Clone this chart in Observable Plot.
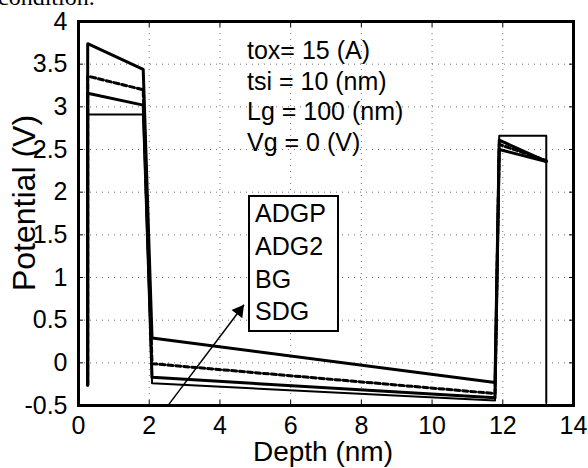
<!DOCTYPE html>
<html><head><meta charset="utf-8">
<script src="https://cdn.jsdelivr.net/npm/d3@7"></script>
<script src="https://cdn.jsdelivr.net/npm/@observablehq/plot@0.6"></script>
<style>
html,body{margin:0;padding:0;background:#fff;}
body{width:588px;height:468px;overflow:hidden;position:relative;font-family:"Liberation Sans",Arial,sans-serif;color:#000;}
#cap{position:absolute;left:-2px;top:-15px;font-family:"Liberation Serif",serif;font-size:24px;line-height:24px;white-space:nowrap;}
#chart{position:absolute;left:0;top:0;}
.ov{position:absolute;white-space:nowrap;}
#ann{left:247px;top:35px;font-size:25px;line-height:30.5px;}
#leg{left:248px;top:195px;width:91px;height:137px;border:2px solid #000;box-sizing:border-box;padding-left:5px;font-size:25px;line-height:32.8px;background:#fff;}
#ylab{left:24px;top:203px;font-size:32px;transform:translate(-50%,-50%) rotate(-90deg);}
#xlab{left:323px;top:452px;font-size:28px;line-height:26px;transform:translate(-50%,-50%);}
</style></head><body>
<div id="cap">condition.</div>
<div id="chart"></div>
<div id="ann" class="ov"></div>
<div id="leg" class="ov"></div>
<div id="ylab" class="ov">Potential (V)</div>
<div id="xlab" class="ov">Depth (nm)</div>
<script>
// ---- data ----
const seriesNames = ["ADGP", "ADG2", "BG", "SDG"];
const depth1 = [0.26, 0.26, 1.83, 2.08, 11.78, 11.9, 13.23];
const pot1   = [-0.26, 3.74, 3.44, 0.29, -0.23, 2.61, 2.36];
const depth2 = [0.26, 0.26, 1.83, 2.08, 11.78, 11.9, 13.23];
const pot2   = [-0.26, 3.36, 3.20, -0.01, -0.36, 2.56, 2.37];
const depth3 = [0.26, 0.26, 1.83, 2.08, 11.78, 11.9, 13.23];
const pot3   = [-0.26, 3.16, 3.02, -0.17, -0.41, 2.50, 2.36];
const depth4 = [0.26, 0.26, 1.83, 2.08, 11.78, 11.9, 13.23, 13.23];
const pot4   = [-0.26, 2.91, 2.91, -0.24, -0.44, 2.66, 2.66, -0.47];
const xTicks = [0, 2, 4, 6, 8, 10, 12, 14];
const yTicks = [-0.5, 0, 0.5, 1, 1.5, 2, 2.5, 3, 3.5, 4];
const annotationLines = ["tox= 15 (A)", "tsi = 10 (nm)", "Lg = 100 (nm)", "Vg = 0 (V)"];
const arrowFrom = {depth: 2.55, pot: -0.49};
const arrowTo = {depth: 4.68, pot: 0.68};

const toRows = (name, xs, ys) => xs.map((x, i) => ({series: name, depth: x, pot: ys[i]}));
const s1 = toRows(seriesNames[0], depth1, pot1);
const s2 = toRows(seriesNames[1], depth2, pot2);
const s3 = toRows(seriesNames[2], depth3, pot3);
const s4 = toRows(seriesNames[3], depth4, pot4);

document.getElementById("ann").innerHTML = annotationLines.map(t => `<div>${t}</div>`).join("");
document.getElementById("leg").innerHTML = seriesNames.map(t => `<div>${t}</div>`).join("");

const blank = () => "";
const plot = Plot.plot({
  width: 588,
  height: 468,
  marginLeft: 78,
  marginRight: 15,
  marginTop: 21,
  marginBottom: 63,
  style: {fontFamily: "Liberation Sans, Arial, sans-serif", background: "transparent", color: "#000"},
  x: {domain: [0, 14]},
  y: {domain: [-0.5, 4]},
  marks: [
    Plot.gridX(xTicks.slice(1, -1), {stroke: "#000", strokeOpacity: 0.55, strokeDasharray: "1,5"}),
    Plot.gridY(yTicks.slice(1, -1), {stroke: "#000", strokeOpacity: 0.55, strokeDasharray: "1,5"}),
    Plot.line(s4, {x: "depth", y: "pot", stroke: "#000", strokeWidth: 2}),
    Plot.line(s3, {x: "depth", y: "pot", stroke: "#000", strokeWidth: 3}),
    Plot.line(s2, {x: "depth", y: "pot", stroke: "#000", strokeWidth: 3, strokeDasharray: "5,3"}),
    Plot.line(s1, {x: "depth", y: "pot", stroke: "#000", strokeWidth: 3}),
    Plot.link([{}], {x1: () => arrowFrom.depth, y1: () => arrowFrom.pot, x2: () => arrowTo.depth, y2: () => arrowTo.pot, stroke: "#000", strokeWidth: 1.5}),
    Plot.dot([{}], {x: () => arrowTo.depth, y: () => arrowTo.pot, symbol: "triangle", r: 5, rotate: 37, fill: "#000", stroke: "none", dx: -4.7, dy: 6.2}),
    Plot.axisX(xTicks, {anchor: "bottom", tickSize: -5, tickFormat: blank, label: null}),
    Plot.axisX(xTicks, {anchor: "top", tickSize: -5, tickFormat: blank, label: null}),
    Plot.axisY(yTicks, {anchor: "left", tickSize: -5, tickFormat: blank, label: null}),
    Plot.axisY(yTicks, {anchor: "right", tickSize: -5, tickFormat: blank, label: null}),
    Plot.axisX(xTicks, {anchor: "bottom", tickSize: 0, tickPadding: 11, fontSize: 25, label: null}),
    Plot.axisY(yTicks, {anchor: "left", tickSize: 0, tickPadding: 11, fontSize: 25, label: null, tickFormat: d => String(d)}),
    Plot.frame({stroke: "#000", strokeWidth: 3})
  ]
});
document.getElementById("chart").appendChild(plot);
</script>
</body></html>
